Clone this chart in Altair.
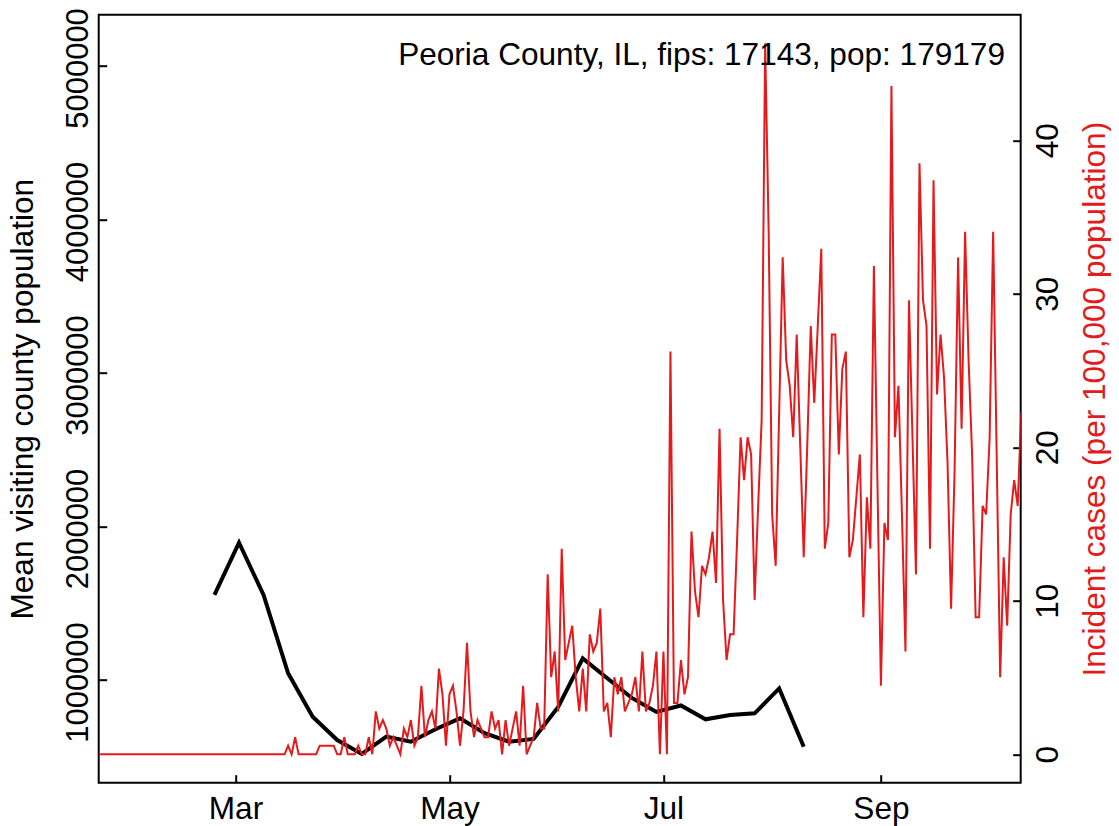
import altair as alt
import pandas as pd

FONT = "Liberation Sans"
FS = 31.6
RED = "#E41A1C"

county_pop = 179179
annotation = "Peoria County, IL, fips: 17143, pop: 179179"

# Daily incident cases (counts), starting 2020-01-22
red_start = "2020-01-22"
red_cases = [
    0, 0, 0, 0, 0, 0, 0, 0, 0, 0,
    0, 0, 0, 0, 0, 0, 0, 0, 0, 0,
    0, 0, 0, 0, 0, 0, 0, 0, 0, 0,
    0, 0, 0, 0, 0, 0, 0, 0, 0, 0,
    0, 0, 0, 0, 0, 0, 0, 0, 0, 0,
    0, 0, 0, 0,
    1, 0, 2, 0, 0, 0, 0, 0, 0, 1,      # 54
    1, 1, 1, 1, 0, 0, 2, 0, 0, 0,      # 64
    1, 0, 0, 2, 0, 5, 3, 4, 3, 1,      # 74
    2, 1, 0, 3, 2, 4, 1, 2, 8, 2,      # 84
    4, 5, 3, 10, 7, 1, 7, 8, 5, 1,     # 94
    5, 13, 5, 2, 4, 3, 2, 2, 5, 3,     # 104
    4, 0, 4, 1, 3, 5, 1, 8, 0, 1,      # 114
    2, 6, 3, 3, 21, 9, 12, 5, 24, 11,  # 124
    13, 15, 9, 5, 10, 5, 14, 12, 13, 17,   # 134
    5, 6, 2, 9, 7, 9, 5, 6, 7, 9,      # 144
    5, 12, 5, 6, 8, 12, 0, 12, 0, 47,  # 154
    6, 6, 11, 7, 9, 26, 19, 16, 22, 21,    # 164
    23, 26, 20, 38, 18, 11, 14, 14, 25, 37,  # 174
    32, 37, 35, 18, 29, 39, 83, 61, 28, 22,  # 184
    40, 58, 46, 43, 37, 49, 36, 23, 36, 50,  # 194
    41, 50, 59, 24, 27, 49, 49, 35, 45, 47,  # 204
    23, 25, 30, 35, 16, 30, 24, 57, 32, 8,   # 214
    27, 25, 78, 37, 43, 28, 12, 53, 37, 21,  # 224
    69, 53, 50, 24, 67, 42, 49, 44, 34, 17,  # 234
    33, 58, 38, 61, 46, 35, 16, 16, 29, 28,  # 244
    37, 61, 35, 9, 23, 15, 28, 32, 29, 40,   # 254
]

# Weekly mean visiting county population, starting 2020-02-24
black_start = "2020-02-24"
black_vals = [
    1554000, 1894000, 1554000, 1044000, 761000, 609000, 518000,
    631000, 598000, 679000, 750000, 653000, 598000, 616000,
    824000, 1141000, 1011000, 883000, 792000, 834000, 744000,
    772000, 783000, 945000, 565000,
]

left_ticks = [1000000, 2000000, 3000000, 4000000, 5000000]
right_ticks = [0, 10, 20, 30, 40]
x_tick_months = [3, 5, 7, 9]

red_df = pd.DataFrame({
    "date": pd.date_range(red_start, periods=len(red_cases), freq="D"),
    "cases": red_cases,
})
red_df["rate"] = red_df["cases"] / county_pop * 100000

black_df = pd.DataFrame({
    "date": pd.date_range(black_start, periods=len(black_vals), freq="7D"),
    "pop": black_vals,
})

x_enc = alt.X(
    "date:T",
    scale=alt.Scale(domain=[alt.DateTime(year=2020, month=1, date=22),
                            alt.DateTime(year=2020, month=10, date=10, hours=20, minutes=24)]),
    axis=alt.Axis(
        values=[alt.DateTime(year=2020, month=m, date=1) for m in x_tick_months],
        format="%b", title=None, orient="bottom", offset=-8,
        tickSize=8, tickWidth=2, tickColor="black", domain=False, grid=False,
        labelFont=FONT, labelFontSize=FS, labelColor="black",
        labelPadding=35.6, labelBaseline="alphabetic", labelAlign="center",
        labelFlush=False, labelOverlap=False,
    ),
)

left_axis = alt.Axis(
    orient="left", values=left_ticks, format="d", offset=-8,
    tickSize=8, tickWidth=2, tickColor="black", domain=False, grid=False,
    labelAngle=270, labelAlign="center", labelBaseline="alphabetic", labelPadding=11.4,
    labelFont=FONT, labelFontSize=31, labelColor="black", labelOffset=2,
    labelFlush=False, labelOverlap=False,
    title="Mean visiting county population", titleFont=FONT, titleFontSize=FS,
    titleFontWeight="normal", titleColor="black", titleAngle=270,
    titleAlign="center", titleBaseline="alphabetic", titleX=-73.9, titleY=384,
)

right_axis = alt.Axis(
    orient="right", values=right_ticks, format="d", offset=-8,
    tickSize=8, tickWidth=2, tickColor="black", domain=False, grid=False,
    labelAngle=270, labelAlign="center", labelBaseline="alphabetic", labelPadding=37,
    labelFont=FONT, labelFontSize=FS, labelColor="black",
    labelFlush=False, labelOverlap=False,
    title="Incident cases (per 100,000 population)", titleFont=FONT, titleFontSize=FS,
    titleFontWeight="normal", titleColor=RED, titleAngle=270,
    titleAlign="center", titleBaseline="alphabetic", titleX=91.5, titleY=384,
)

black = alt.Chart(black_df).mark_line(color="black", strokeWidth=4, clip=True).encode(
    x=x_enc,
    y=alt.Y("pop:Q", scale=alt.Scale(domain=[331000, 5334000], nice=False, zero=False), axis=left_axis),
)

red = alt.Chart(red_df).mark_line(color=RED, strokeWidth=2, clip=True).encode(
    x=x_enc,
    y=alt.Y("rate:Q", scale=alt.Scale(domain=[-1.85, 48.18], nice=False, zero=False), axis=right_axis),
)

text = alt.Chart(pd.DataFrame({"label": [annotation]})).mark_text(
    align="right", baseline="alphabetic", font=FONT, fontSize=FS, color="black"
).encode(
    x=alt.value(906.3), y=alt.value(50.3), text="label:N"
)

chart = alt.layer(black, red, text).resolve_scale(y="independent").properties(
    width=922, height=768,
    autosize=alt.AutoSizeParams(type="none"),
    padding={"left": 90.7, "top": 6.7, "right": 90, "bottom": 44},
).configure(font=FONT).configure_view(stroke="black", strokeWidth=2)

chart.save("out.html", embed_options={"renderer": "svg", "actions": False})
